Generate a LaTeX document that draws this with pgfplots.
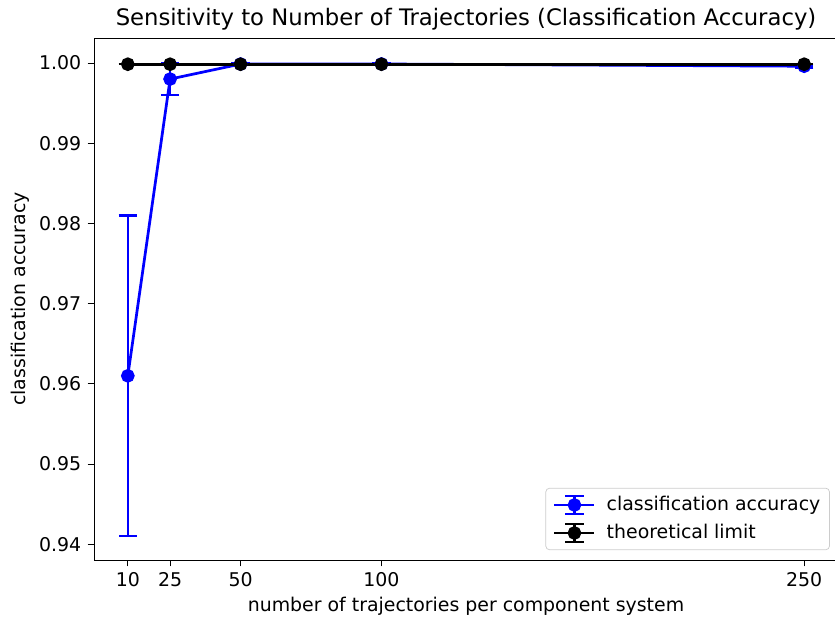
\documentclass[border=0pt]{standalone}
\usepackage{fontspec}
\setmainfont{DejaVu Sans}
\usepackage{pgfplots}
\pgfplotsset{compat=1.18}

\definecolor{mplblue}{RGB}{0,0,255}

% legend symbol: line, error bar with caps, filled circle
\pgfplotsset{
  errleg/.style={
    legend image code/.code={
      \draw[#1, line width=1.5pt, mark=none] (0pt,0pt) -- (22pt,0pt);
      \draw[#1, line width=1.2pt, mark=none] (11pt,-5pt) -- (11pt,5pt);
      \draw[#1, line width=1.2pt, mark=none] (6pt,-5pt) -- (16pt,-5pt);
      \draw[#1, line width=1.2pt, mark=none] (6pt,5pt) -- (16pt,5pt);
      \fill[#1] (11pt,0pt) circle (3pt);
      \path (-1pt,0pt) (26pt,0pt);
    }
  }
}

\begin{document}
\begin{tikzpicture}[x=1pt,y=1pt]
\begin{axis}[
  scale only axis,
  width=409.2pt, height=287.1pt,
  at={(51.7pt,34.1pt)}, anchor=south west,
  xmin=-2, xmax=262,
  ymin=0.93804, ymax=1.00312,
  xtick={10,25,50,100,250},
  ytick={0.94,0.95,0.96,0.97,0.98,0.99,1.00},
  scaled y ticks=false,
  yticklabel style={/pgf/number format/.cd, fixed, fixed zerofill, precision=2},
  /pgf/number format/assume math mode=true,
  tick align=outside,
  major tick length=3.5pt,
  tick style={black, line width=0.45pt},
  axis line style={line width=0.45pt},
  xtick pos=bottom, ytick pos=left,
  ticklabel style={font=\fontsize{10.4}{12}\selectfont},
  title={Sensitivity to Number of Trajectories (Classification Accuracy)},
  every axis title/.style={font=\fontsize{12.5}{14}\selectfont, at={(axis description cs:0.5,1.023)}, anchor=base},
  xlabel={number of trajectories per component system},
  every axis x label/.style={font=\fontsize{10.4}{12}\selectfont, at={(axis description cs:0.5,-0.088)}, anchor=center},
  ylabel={classification accuracy},
  every axis y label/.style={font=\fontsize{10.4}{12}\selectfont, at={(axis description cs:-0.0995,0.5)}, rotate=90, anchor=center},
  legend style={at={(axis description cs:0.989,0.019)}, anchor=south east,
    font=\fontsize{10.4}{12}\selectfont, draw=black!20, rounded corners=2pt,
    row sep=2pt, inner xsep=3pt, inner ysep=2.5pt},
  legend cell align=left,
]
% measured accuracy with spread over runs
\addplot+[mplblue, line width=1.5pt, mark=*, mark size=3pt,
  mark options={fill=mplblue, draw=mplblue, solid},
  errleg,
  error bars/.cd, y dir=both, y explicit,
  error bar style={mplblue, line width=1.2pt},
  error mark options={rotate=90, mark size=5pt, mplblue, line width=1.2pt},
] coordinates {
  (10,0.961)   +- (0,0.020)
  (25,0.998)   +- (0,0.002)
  (50,0.99987) +- (0,0.00015)
  (100,0.99988)+- (0,0.00005)
  (250,0.99960)+- (0,0.00015)
};
\addlegendentry{classification accuracy}
% theoretical ceiling
\addplot+[black, line width=1.5pt, mark=*, mark size=3pt,
  mark options={fill=black, draw=black, solid},
  errleg,
  error bars/.cd, y dir=both, y explicit,
  error bar style={black, line width=1.2pt},
  error mark options={rotate=90, mark size=5pt, black, line width=1.2pt},
] coordinates {
  (10,0.99985)  +- (0,0.00002)
  (25,0.99985)  +- (0,0.00002)
  (50,0.99985)  +- (0,0.00002)
  (100,0.99985) +- (0,0.00002)
  (250,0.99985) +- (0,0.00002)
};
\addlegendentry{theoretical limit}
\end{axis}
\pgfresetboundingbox
\useasboundingbox (0,0) rectangle (459.25pt,342.1pt);
\end{tikzpicture}
\end{document}
